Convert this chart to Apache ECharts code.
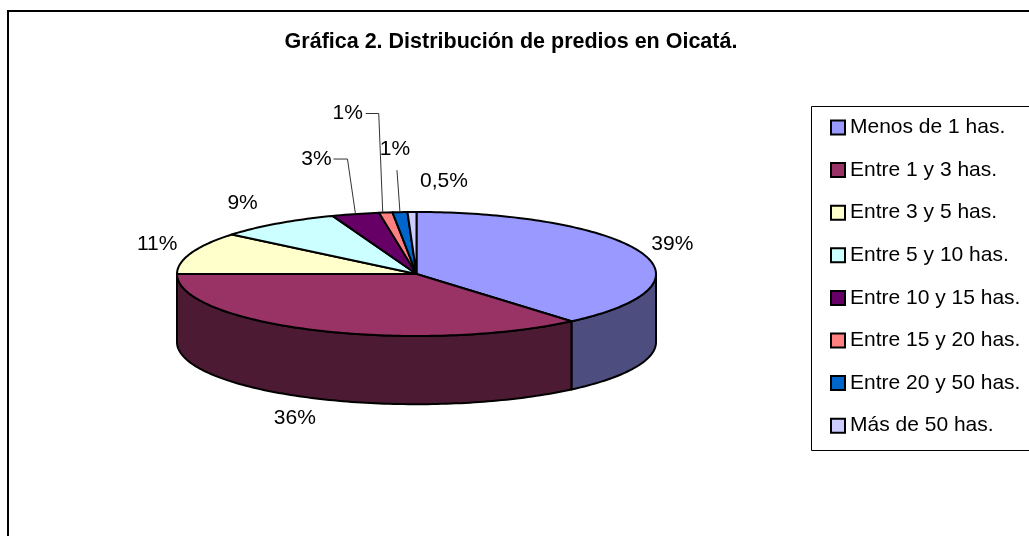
<!DOCTYPE html>
<html><head><meta charset="utf-8">
<style>html,body{margin:0;padding:0;background:#fff;overflow:hidden}#c{width:1029px;height:536px}</style>
<script src="https://cdn.jsdelivr.net/npm/echarts@6/dist/echarts.min.js"></script>
</head><body><div id="c"></div>
<script>
const titleText = 'Gráfica 2. Distribución de predios en Oicatá.';
const categories = ['Menos de 1 has.','Entre 1 y 3 has.','Entre 3 y 5 has.','Entre 5 y 10 has.','Entre 10 y 15 has.','Entre 15 y 20 has.','Entre 20 y 50 has.','Más de 50 has.'];
const values = [38.8, 36.2, 11, 8.3, 3.2, 0.9, 1, 0.6];
const valueLabels = ['39%','36%','11%','9%','3%','1%','1%','0,5%'];
const topColors = ['#9999ff','#993366','#ffffcc','#ccffff','#660066','#ff8080','#0066cc','#ccccff'];
const sideColors = ['#4d4d80','#4c1a33','#80805c','#668080','#330033','#804040','#003366','#666680'];

// label placement relative to the slice's rim midpoint [dx, dy], pixels
const labelOffsets = [[31,-8],[-21,88],[-34,-9],[-35,-20],[-39,-55],[-38,-99],[-5,-63],[32,-31]];
// leader polylines relative to the slice's rim midpoint (empty when none)
const leaders = [[],[],[],[],[[-22,-55],[-8,-55],[0,0]],[[-20,-99],[-7,-99],[-3,0]],[[-3,-42],[0,0]],[]];

const DEPTH = 1.1; // pie thickness in y-axis units
const total = values.reduce((a,b)=>a+b,0);
let run = 0;
const slices = values.map(v => { const s = run; run += v; return [s/total*Math.PI*2, run/total*Math.PI*2]; });

function rim(a, drop){ return [Math.sin(a), Math.cos(a) - (drop||0)]; }
function arc(api, a0, a1, drop){
  const n = Math.max(2, Math.ceil((a1-a0)/0.02)); const pts = [];
  for (let i=0;i<=n;i++) pts.push(api.coord(rim(a0+(a1-a0)*i/n, drop)));
  return pts;
}
function makeItem(i){
  return function(params, api){
    const [a0,a1] = slices[i];
    const children = [];
    const edge = {stroke:'#000', lineWidth:2, lineJoin:'round'};
    const f0 = Math.max(a0, Math.PI/2), f1 = Math.min(a1, Math.PI*1.5);
    if (f1 > f0) {
      const wall = arc(api,f0,f1,0).concat(arc(api,f0,f1,DEPTH).reverse());
      children.push({type:'polygon', shape:{points:wall}, style:Object.assign({fill:sideColors[i]},edge)});
    }
    const top = [api.coord([0,0])].concat(arc(api,a0,a1,0));
    children.push({type:'polygon', shape:{points:top}, style:Object.assign({fill:topColors[i]},edge)});
    const mid = (a0+a1)/2, anchor = api.coord(rim(mid,0));
    if (leaders[i].length) {
      children.push({type:'polyline', z2:5, shape:{points:leaders[i].map(p=>[anchor[0]+p[0],anchor[1]+p[1]])},
        style:{stroke:'#333', lineWidth:1, fill:null}});
    }
    children.push({type:'text', z2:6, x:anchor[0]+labelOffsets[i][0], y:anchor[1]+labelOffsets[i][1],
      style:{text:valueLabels[i], fill:'#000', font:'21px "Liberation Sans"', align:'center', verticalAlign:'middle'}});
    return {type:'group', children};
  };
}
const chart = echarts.init(document.getElementById('c'), null, {renderer:'canvas'});
chart.setOption({
  animation:false,
  backgroundColor:'#fff',
  title:{text:titleText, left:506, top:26, textAlign:'center',
    textStyle:{fontFamily:'Liberation Sans', fontWeight:'bold', fontSize:21.5, color:'#000'}},
  grid:{left:177, width:479, top:212, height:124, show:false},
  xAxis:{type:'value', min:-1, max:1, show:false},
  yAxis:{type:'value', min:-1, max:1, show:false},
  legend:{orient:'vertical', left:830, top:117, padding:0, itemWidth:14, itemHeight:14, itemGap:21.6, selectedMode:false,
    textStyle:{fontFamily:'Liberation Sans', fontSize:21, color:'#000'},
    data:categories.map((n,i)=>({name:n, icon:'rect', itemStyle:{color:topColors[i], borderColor:'#000', borderWidth:2}}))},
  graphic:[
    {type:'rect', silent:true, z:-1, shape:{x:8,y:11,width:1040,height:560}, style:{fill:'#fff',stroke:'#000',lineWidth:2}},
    {type:'rect', silent:true, z:-1, shape:{x:811.5,y:106.5,width:240,height:344}, style:{fill:'#fff',stroke:'#000',lineWidth:1}}
  ],
  series:categories.map((n,i)=>({
    name:n, type:'custom', coordinateSystem:'cartesian2d', silent:true, clip:false, z:2,
    encode:{x:0,y:1}, data:[[0,0]], renderItem:makeItem(i),
    itemStyle:{color:topColors[i]}
  }))
});
</script></body></html>
